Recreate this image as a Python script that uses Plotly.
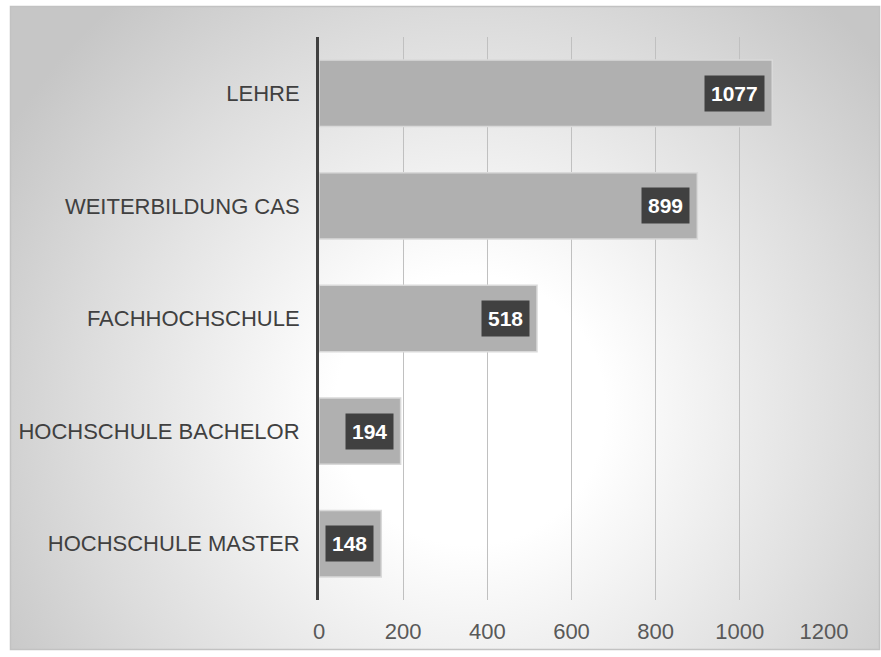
import base64
import plotly.graph_objects as go

categories = ["LEHRE", "WEITERBILDUNG CAS", "FACHHOCHSCHULE", "HOCHSCHULE BACHELOR", "HOCHSCHULE MASTER"]
values = [1077, 899, 518, 194, 148]
tick_vals = [0, 200, 400, 600, 800, 1000, 1200]

W, H = 881, 657
L, R, T, B = 319, 57, 37, 57
pw, ph = W - L - R, H - T - B

svg = f'''<svg xmlns="http://www.w3.org/2000/svg" width="{W}" height="{H}" viewBox="0 0 {W} {H}">
<defs><radialGradient id="g" gradientUnits="userSpaceOnUse" cx="470" cy="410" r="540">
<stop offset="0" stop-color="#ffffff"/><stop offset="0.25" stop-color="#ffffff"/>
<stop offset="0.72" stop-color="#dcdcdc"/><stop offset="1" stop-color="#c6c6c6"/>
</radialGradient></defs>
<rect x="0" y="0" width="{W}" height="{H}" fill="#ffffff"/>
<rect x="10.5" y="6.5" width="869" height="643" fill="url(#g)" stroke="#c2c2c2" stroke-width="1.5"/>
</svg>'''
src = "data:image/svg+xml;base64," + base64.b64encode(svg.encode()).decode()

fig = go.Figure()
fig.add_trace(go.Bar(
    x=values, y=categories, orientation="h", width=0.59,
    marker=dict(color="#b0b0b0", line=dict(color="#d9d9d9", width=1.5)),
    hoverinfo="skip",
))

for v, c in zip(values, categories):
    fig.add_annotation(
        x=v, y=c, xref="x", yref="y", text=f"<b>{v}</b>", showarrow=False,
        xanchor="right", xshift=-7, bgcolor="#404040", borderpad=6,
        font=dict(family="Liberation Sans, Arial, sans-serif", size=21, color="#ffffff"),
    )

fig.add_layout_image(dict(
    source=src, xref="paper", yref="paper",
    x=-L / pw, y=(ph + T) / ph, sizex=W / pw, sizey=H / ph,
    xanchor="left", yanchor="top", sizing="stretch", layer="below",
))

fig.update_layout(
    width=W, height=H,
    margin=dict(l=L, r=R, t=T, b=B),
    paper_bgcolor="#ffffff", plot_bgcolor="rgba(0,0,0,0)",
    showlegend=False,
    font=dict(family="Liberation Sans, Arial, sans-serif"),
    xaxis=dict(
        range=[0, 1200], tickvals=tick_vals, showgrid=True, gridcolor="#c0c0c0", gridwidth=1,
        zeroline=False, showline=False, ticks="outside", ticklen=12, tickcolor="rgba(0,0,0,0)",
        tickfont=dict(size=22, color="#595959"), fixedrange=True,
    ),
    yaxis=dict(
        categoryorder="array", categoryarray=categories, autorange="reversed",
        showline=True, linecolor="#404040", linewidth=3, showgrid=False,
        ticks="outside", ticklen=12, tickcolor="rgba(0,0,0,0)",
        tickfont=dict(size=22, color="#404040"), fixedrange=True,
    ),
)

fig.write_html(
    "out.html",
    config={"displayModeBar": False},
    post_script="document.body.style.margin='0';document.body.style.overflow='hidden';",
)
